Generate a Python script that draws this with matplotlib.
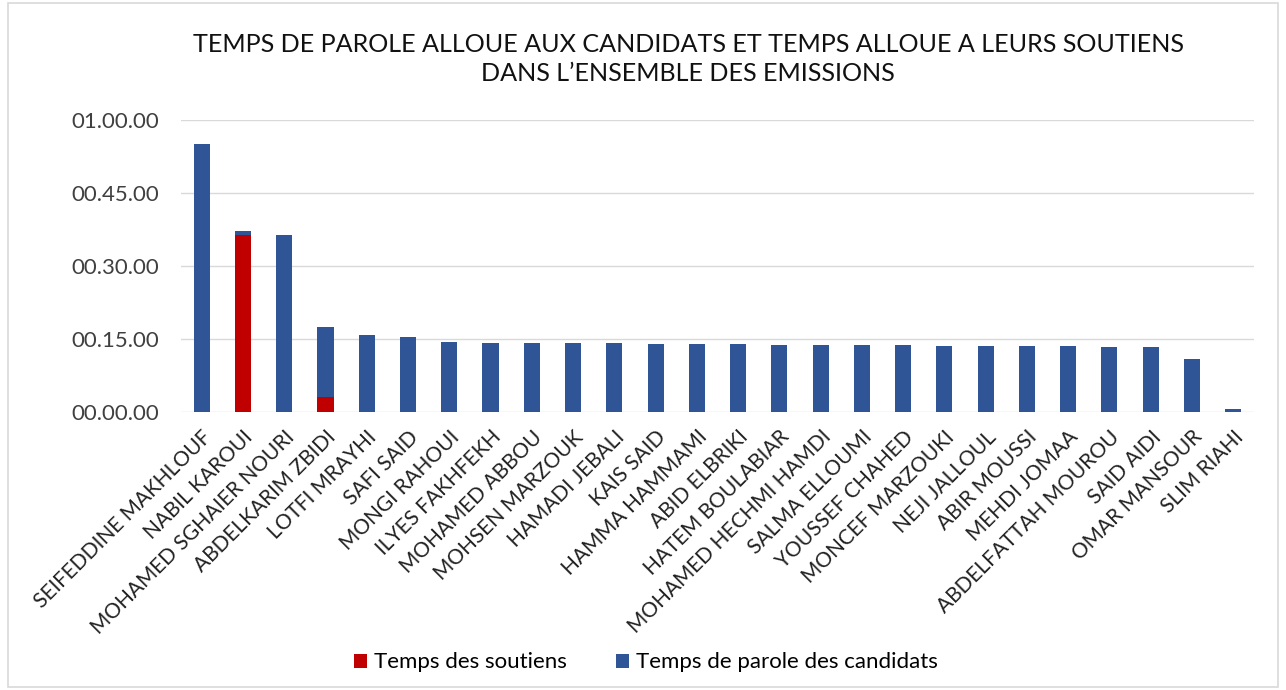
import matplotlib.pyplot as plt
from matplotlib.patches import Rectangle
from matplotlib.ticker import FuncFormatter

# names and times in minutes
candidats = ["SEIFEDDINE MAKHLOUF", "NABIL KAROUI", "MOHAMED SGHAIER NOURI",
             "ABDELKARIM ZBIDI", "LOTFI MRAYHI", "SAFI SAID", "MONGI RAHOUI",
             "ILYES FAKHFEKH", "MOHAMED ABBOU", "MOHSEN MARZOUK", "HAMADI JEBALI",
             "KAIS SAID", "HAMMA HAMMAMI", "ABID ELBRIKI", "HATEM BOULABIAR",
             "MOHAMED HECHMI HAMDI", "SALMA ELLOUMI", "YOUSSEF CHAHED",
             "MONCEF MARZOUKI", "NEJI JALLOUL", "ABIR MOUSSI", "MEHDI JOMAA",
             "ABDELFATTAH MOUROU", "SAID AIDI", "OMAR MANSOUR", "SLIM RIAHI"]
soutiens = [0, 36.4, 0, 3.0, 0, 0, 0, 0, 0, 0, 0, 0, 0, 0, 0, 0, 0, 0, 0, 0,
            0, 0, 0, 0, 0, 0]
parole = [55.0, 0.7, 36.4, 14.4, 15.7, 15.4, 14.4, 14.1, 14.1, 14.1, 14.1,
          13.9, 13.9, 13.9, 13.7, 13.7, 13.7, 13.7, 13.5, 13.5, 13.5, 13.5,
          13.2, 13.2, 10.8, 0.55]

plt.rcParams['font.family'] = ['Lato', 'DejaVu Sans']

fig = plt.figure(figsize=(12.86, 6.9), dpi=100)
ax = fig.add_axes([0.1408, 0.4036, 0.8342, 0.4224])
fig.patches.append(Rectangle((0.006, 0.005), 0.988, 0.99, transform=fig.transFigure,
                             fill=False, edgecolor='#d9d9d9', linewidth=1.2))

x = range(len(candidats))
ax.bar(x, soutiens, width=0.39, color='#C00000', label='Temps des soutiens', zorder=3)
ax.bar(x, parole, width=0.39, bottom=soutiens, color='#2F5597',
       label='Temps de parole des candidats', zorder=3)

def fmt(v, pos):
    total = int(round(v * 60))
    return "%02d.%02d.%02d" % (total // 3600, (total // 60) % 60, total % 60)

ax.set_ylim(0, 60)
ax.set_xlim(-0.5, len(candidats) - 0.5)
ax.set_yticks([0, 15, 30, 45, 60])
ax.yaxis.set_major_formatter(FuncFormatter(fmt))
ax.grid(axis='y', color='#d9d9d9', linewidth=1, zorder=0)
for s in ax.spines.values():
    s.set_visible(False)
ax.tick_params(length=0)
ax.tick_params(axis='y', labelsize=16, labelcolor='#404040', pad=16)
ax.set_xticks(list(x))
ax.set_xticklabels(candidats, rotation=45, ha='right', rotation_mode='anchor',
                   fontsize=15, color='#222222')
ax.tick_params(axis='x', pad=11)

fig.text(0.535, 0.914, "TEMPS DE PAROLE ALLOUE AUX CANDIDATS ET TEMPS ALLOUE A LEURS SOUTIENS\nDANS L\u2019ENSEMBLE DES EMISSIONS",
         ha='center', va='center', fontsize=18.1, color='#111111', linespacing=1.3)

fig.legend(loc='center', bbox_to_anchor=(0.502, 0.04), ncol=2, frameon=False,
           fontsize=16, handlelength=0.6, handleheight=0.6, handletextpad=0.3,
           columnspacing=2.2)

fig.savefig('out.png', dpi=100)
